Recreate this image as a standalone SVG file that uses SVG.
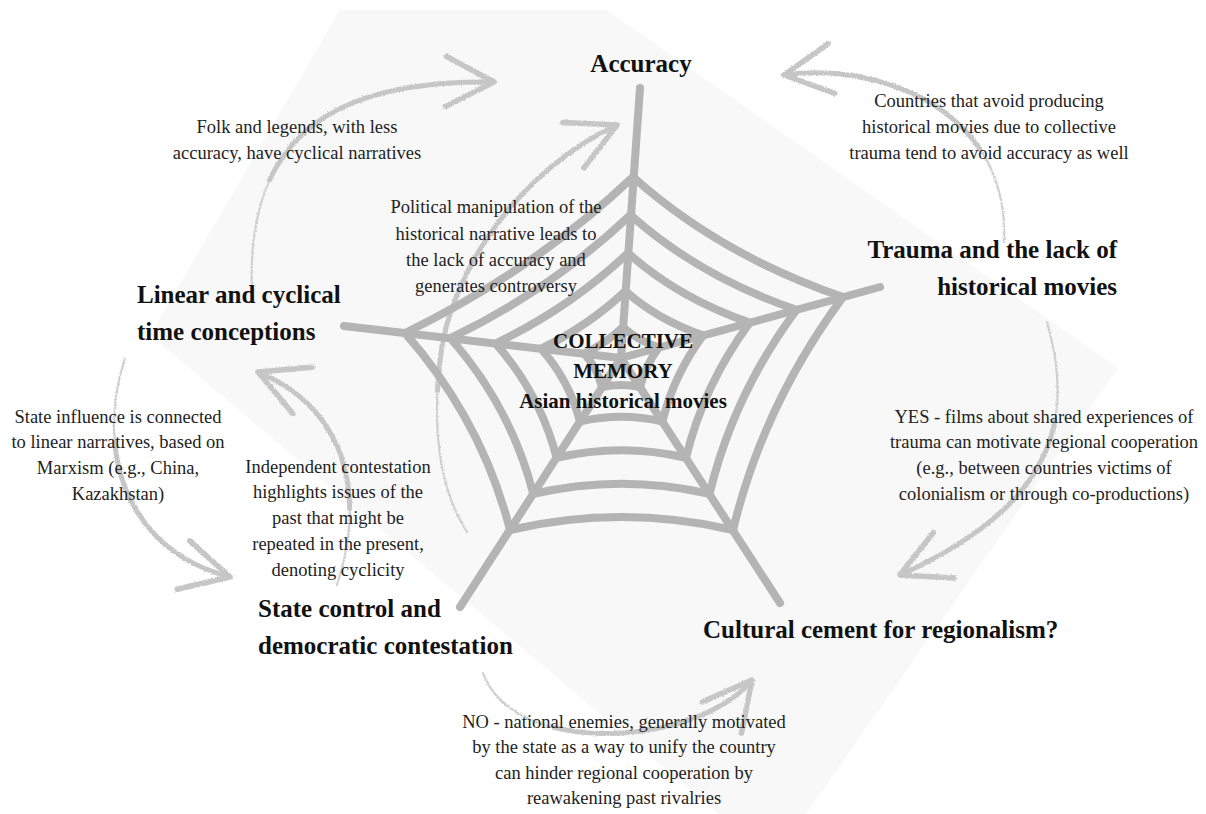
<svg xmlns="http://www.w3.org/2000/svg" width="1206" height="814" viewBox="0 0 1206 814">
  <defs>
    <style>
      .lbl { font-family: "Liberation Serif", "Times New Roman", serif; font-weight: bold; font-size: 25px; fill: #111; }
      .core { font-family: "Liberation Serif", "Times New Roman", serif; font-weight: bold; font-size: 21px; fill: #111; text-anchor: middle; }
      .note { font-family: "Liberation Serif", "Times New Roman", serif; font-size: 18.5px; fill: #222; text-anchor: middle; }
      .thread { fill: none; stroke: #b4b4b4; stroke-width: 8; stroke-linecap: round; stroke-linejoin: round; }
      .tail { fill: none; stroke: #d0d0d0; stroke-width: 2.2; stroke-linecap: round; }
      .body { fill: none; stroke: #c6c6c6; stroke-width: 5; stroke-dasharray: 70 100; stroke-dashoffset: -30; marker-end: url(#head); }
    </style>
    <filter id="rough" x="-10%" y="-10%" width="120%" height="120%">
      <feTurbulence type="fractalNoise" baseFrequency="0.9" numOctaves="2" seed="4" result="noise"/>
      <feDisplacementMap in="SourceGraphic" in2="noise" scale="3" xChannelSelector="R" yChannelSelector="G"/>
    </filter>
    <marker id="head" markerUnits="userSpaceOnUse" markerWidth="80" markerHeight="80" viewBox="-60 -40 80 80" refX="0" refY="0" orient="auto" overflow="visible">
      <path d="M-48,-25 L0,0 L-48,25" fill="none" stroke="#c6c6c6" stroke-width="5.5" stroke-linecap="round" stroke-linejoin="round"/>
    </marker>
  </defs>

  <rect width="1206" height="814" fill="#ffffff"/>
  <!-- pale paper sheet behind the diagram -->
  <polygon points="340,10 607,10 1118,368 806,814 719,814 150,335" fill="#f8f8f8"/>

  <!-- curved sketch arrows between the themes -->
  <g id="connectors" filter="url(#rough)">
    <g id="arrow-folk">
      <path class="tail" d="M252,292 C245,130 340,80 494,82"/>
      <path class="body" pathLength="100" d="M252,292 C245,130 340,80 494,82"/>
    </g>
    <g id="arrow-trauma-accuracy">
      <path class="tail" d="M1004,242 C1010,110 880,62 784,75"/>
      <path class="body" pathLength="100" d="M1004,242 C1010,110 880,62 784,75"/>
    </g>
    <g id="arrow-yes">
      <path class="tail" d="M1047,322 C1075,420 1055,505 900,575"/>
      <path class="body" pathLength="100" d="M1047,322 C1075,420 1055,505 900,575"/>
    </g>
    <g id="arrow-no">
      <path class="tail" d="M483,673 C515,760 700,745 752,680"/>
      <path class="body" pathLength="100" d="M483,673 C515,760 700,745 752,680"/>
    </g>
    <g id="arrow-political">
      <path class="tail" d="M467,532 C440,490 432,430 440,360 C450,270 520,170 617,125"/>
      <path class="body" pathLength="100" d="M467,532 C440,490 432,430 440,360 C450,270 520,170 617,125"/>
    </g>
    <g id="arrow-independent">
      <path class="tail" d="M337,585 C365,500 350,410 258,372"/>
      <path class="body" pathLength="100" d="M337,585 C365,500 350,410 258,372"/>
    </g>
    <g id="arrow-state-influence">
      <path class="tail" d="M125,358 C95,450 125,550 230,577"/>
      <path class="body" pathLength="100" d="M125,358 C95,450 125,550 230,577"/>
    </g>
  </g>

  <!-- central spider web -->
  <g id="node-center">
    <g id="web" transform="translate(621 358)">
      <path class="thread" d="M0,0 L19,-270 M0,0 L259,-71 M0,0 L159,245 M0,0 L-161,249 M0,0 L-277,-32"/>
      <path class="thread" d="M12,-181 Q99.5,-102.9 222,-61 Q142,47.2 112,172 Q0.4,146.2 -111,172 Q-139,62.5 -216,-25 Q-86.7,-87.6 12,-181 Z"/>
      <path class="thread" d="M9.5,-143 Q78.6,-81.3 175.4,-48.2 Q112.2,37.3 88.5,135.9 Q0.3,115.5 -87.7,135.9 Q-109.8,49.4 -170.6,-19.8 Q-68.5,-69.2 9.5,-143 Z"/>
      <path class="thread" d="M7,-105 Q57.7,-59.7 128.8,-35.4 Q82.4,27.4 65,99.8 Q0.2,84.8 -64.4,99.8 Q-80.6,36.3 -125.3,-14.5 Q-50.3,-50.8 7,-105 Z"/>
      <path class="thread" d="M4.4,-67 Q36.8,-38.1 82.1,-22.6 Q52.5,17.5 41.4,63.6 Q0.2,54.1 -41.1,63.6 Q-51.4,23.1 -79.9,-9.3 Q-32.1,-32.4 4.4,-67 Z"/>
      <path class="thread" d="M2,-30.8 Q16.9,-17.5 37.7,-10.4 Q24.1,8 19,29.2 Q0.1,24.9 -18.9,29.2 Q-23.6,10.6 -36.7,-4.3 Q-14.7,-14.9 2,-30.8 Z"/>
    </g>
    <text class="core" x="623" y="348">COLLECTIVE</text>
    <text class="core" x="623" y="378">MEMORY</text>
    <text class="core" x="623" y="408">Asian historical movies</text>
  </g>

  <!-- theme labels -->
  <g id="node-accuracy">
    <text class="lbl" x="641" y="72" text-anchor="middle">Accuracy</text>
  </g>
  <g id="node-trauma">
    <text class="lbl" x="1117" y="258" text-anchor="end">Trauma and the lack of</text>
    <text class="lbl" x="1117" y="295" text-anchor="end">historical movies</text>
  </g>
  <g id="node-cultural">
    <text class="lbl" x="703" y="638">Cultural cement for regionalism?</text>
  </g>
  <g id="node-state">
    <text class="lbl" x="258" y="617">State control and</text>
    <text class="lbl" x="258" y="654">democratic contestation</text>
  </g>
  <g id="node-time">
    <text class="lbl" x="137" y="303">Linear and cyclical</text>
    <text class="lbl" x="137" y="340">time conceptions</text>
  </g>

  <!-- explanatory notes along the arrows -->
  <g id="notes">
    <text class="note" x="297" y="133">Folk and legends, with less</text>
    <text class="note" x="297" y="159">accuracy, have cyclical narratives</text>

    <text class="note" x="989" y="107">Countries that avoid producing</text>
    <text class="note" x="989" y="133">historical movies due to collective</text>
    <text class="note" x="989" y="159">trauma tend to avoid accuracy as well</text>

    <text class="note" x="496" y="213">Political manipulation of the</text>
    <text class="note" x="496" y="240">historical narrative leads to</text>
    <text class="note" x="496" y="266">the lack of accuracy and</text>
    <text class="note" x="496" y="292">generates controversy</text>

    <text class="note" x="118" y="423">State influence is connected</text>
    <text class="note" x="118" y="448">to linear narratives, based on</text>
    <text class="note" x="118" y="474">Marxism (e.g., China,</text>
    <text class="note" x="118" y="500">Kazakhstan)</text>

    <text class="note" x="338" y="473">Independent contestation</text>
    <text class="note" x="338" y="498">highlights issues of the</text>
    <text class="note" x="338" y="524">past that might be</text>
    <text class="note" x="338" y="550">repeated in the present,</text>
    <text class="note" x="338" y="576">denoting cyclicity</text>

    <text class="note" x="1044" y="423">YES - films about shared experiences of</text>
    <text class="note" x="1044" y="448">trauma can motivate regional cooperation</text>
    <text class="note" x="1044" y="474">(e.g., between countries victims of</text>
    <text class="note" x="1044" y="500">colonialism or through co-productions)</text>

    <text class="note" x="624" y="728">NO - national enemies, generally motivated</text>
    <text class="note" x="624" y="753">by the state as a way to unify the country</text>
    <text class="note" x="624" y="779">can hinder regional cooperation by</text>
    <text class="note" x="624" y="804">reawakening past rivalries</text>
  </g>
</svg>
